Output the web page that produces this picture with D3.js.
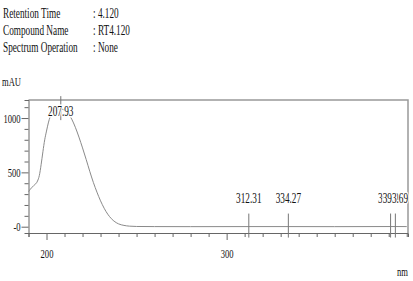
<!DOCTYPE html>
<html>
<head>
<meta charset="utf-8">
<script src="https://cdn.jsdelivr.net/npm/d3@7"></script>
<style>
  body { margin: 0; background: #fff; }
  svg { display: block; font-family: "Liberation Serif", "DejaVu Serif", serif; }
</style>
</head>
<body>
<svg id="chart" width="413" height="281"></svg>
<script>
// header info
const infoKeys = ["Retention Time", "Compound Name", "Spectrum Operation"];
const infoVals = [": 4.120", ": RT4.120", ": None"];

// spectrum (nm, mAU)
const wavelength = [190, 191, 193, 195, 196, 197, 198, 199, 200, 201, 202, 203, 204, 205, 206, 207.93,
  209, 210, 212, 214, 216, 218, 220, 222, 224, 226, 228, 230, 232, 234, 236, 238, 240, 243, 246, 250,
  260, 280, 312.31, 334.27, 360, 391.03, 393.69, 400];
const absorbance = [322, 345, 380, 420, 470, 570, 690, 800, 880, 955, 1010, 1045, 1062, 1072, 1078, 1082,
  1080, 1072, 1040, 990, 915, 825, 725, 620, 510, 408, 318, 238, 170, 115, 74, 45, 26, 12, 5, 2,
  1, 0.5, 1, 1, 0.5, 1.5, 1.5, 1];

// peak picks
const peakWl = [207.93, 312.31, 334.27, 391.03, 393.69];
const peakLabels = ["207.93", "312.31", "334.27", "391.03", "393.69"];

const xMajor = [200, 300];
const yMajor = [0, 500, 1000];
const yMajorLabels = ["-0", "500", "1000"];

const margin = { top: 100, right: 5, bottom: 48, left: 28.5 };
const W = 413, H = 281;
const SX = 0.66; // the original print is horizontally squeezed

const svg = d3.select("#chart");

const x = d3.scaleLinear().domain([190, 400.7]).range([margin.left, W - margin.right]);
const y = d3.scaleLinear().domain([-58, 1166]).range([H - margin.bottom, margin.top]);

function squeezed(g, px, py, txt, size, anchor) {
  return g.append("text")
    .attr("transform", `translate(${px},${py}) scale(${SX},1)`)
    .attr("text-anchor", anchor || "start")
    .attr("font-size", size)
    .attr("fill", "#111")
    .text(txt);
}

// header block
infoKeys.forEach((k, i) => {
  squeezed(svg, 3, 18 + i * 17, k, 14);
  squeezed(svg, 93, 18 + i * 17, infoVals[i], 14);
});
squeezed(svg, 2, 86, "mAU", 13);
squeezed(svg, 397, 276, "nm", 13);

// frame (top + right)
svg.append("path")
  .attr("fill", "none")
  .attr("stroke", "#999")
  .attr("stroke-width", 1.5)
  .attr("d", `M${margin.left},${margin.top}H${W - margin.right}V${H - margin.bottom}`);

// x axis: minor ticks then major ticks with labels
const xMinor = d3.range(190, 401, 10).filter(v => !xMajor.includes(v));
svg.append("g")
  .attr("transform", `translate(0,${H - margin.bottom})`)
  .call(d3.axisBottom(x).tickValues(xMinor).tickSize(4).tickFormat(""))
  .call(g => g.select(".domain").attr("stroke", "#666"))
  .call(g => g.selectAll(".tick line").attr("stroke", "#666"));

svg.append("g")
  .attr("transform", `translate(0,${H - margin.bottom})`)
  .call(d3.axisBottom(x).tickValues(xMajor).tickSize(7).tickSizeOuter(0))
  .call(g => g.select(".domain").remove())
  .call(g => g.selectAll(".tick line").attr("stroke", "#666"))
  .call(g => g.selectAll(".tick text")
    .attr("y", 25).attr("dy", 0)
    .attr("font-family", "Liberation Serif")
    .attr("font-size", 13)
    .attr("fill", "#111")
    .attr("transform", `scale(${SX},1)`));

// y axis
const yMinor = d3.range(100, 1101, 100).filter(v => !yMajor.includes(v));
svg.append("g")
  .attr("transform", `translate(${margin.left},0)`)
  .call(d3.axisLeft(y).tickValues(yMinor).tickSize(4).tickFormat(""))
  .call(g => g.select(".domain").attr("stroke", "#666"))
  .call(g => g.selectAll(".tick line").attr("stroke", "#666"));

svg.append("g")
  .attr("transform", `translate(${margin.left},0)`)
  .call(d3.axisLeft(y).tickValues(yMajor).tickSize(7)
    .tickFormat((d, i) => yMajorLabels[i]))
  .call(g => g.select(".domain").remove())
  .call(g => g.selectAll(".tick line").attr("stroke", "#666"))
  .call(g => g.selectAll(".tick text")
    .attr("x", -12)
    .attr("font-family", "Liberation Serif")
    .attr("font-size", 13)
    .attr("fill", "#111")
    .attr("transform", `scale(${SX},1)`));

// spectrum line
const pts = wavelength.map((w, i) => [w, absorbance[i]]);
const line = d3.line()
  .curve(d3.curveMonotoneX)
  .x(d => x(d[0]))
  .y(d => y(d[1]));

svg.append("path")
  .attr("fill", "none")
  .attr("stroke", "#8a8a8a")
  .attr("stroke-width", 1)
  .attr("d", line(pts));

// peak markers
const peaks = svg.append("g");
peakWl.forEach((w, i) => {
  const v = absorbance[wavelength.indexOf(w)];
  const px = x(w), py = y(v);
  peaks.append("line")
    .attr("x1", px).attr("x2", px)
    .attr("y1", py - 13).attr("y2", py + 11)
    .attr("stroke", "#777");
  const ly = Math.max(margin.top + 16, py - 24);
  squeezed(peaks, px, ly, peakLabels[i], 14, "middle")
    .attr("stroke", "#fff")
    .attr("stroke-width", 3)
    .attr("paint-order", "stroke");
});
</script>
</body>
</html>
